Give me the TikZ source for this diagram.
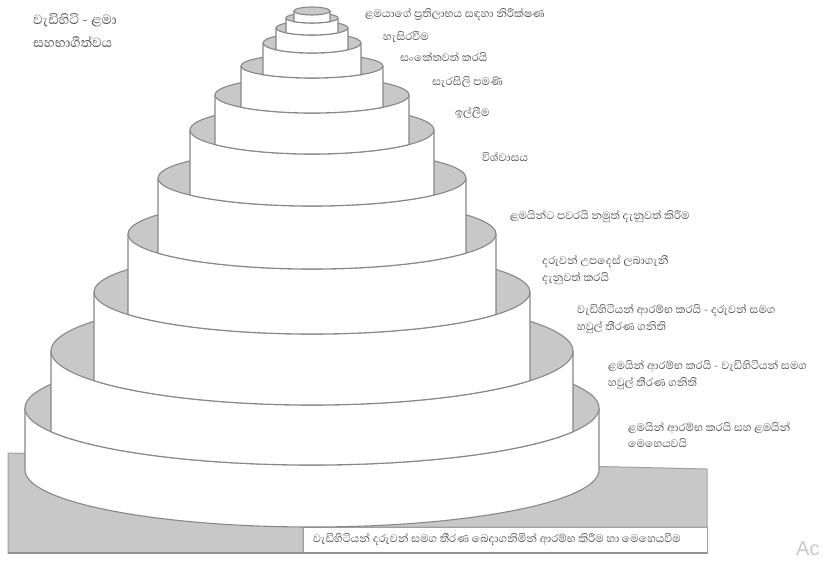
\documentclass[tikz,border=0pt]{standalone}
\usepackage{fontspec}
\newfontfamily\sinhfont[Script=Sinhala]{Abhaya Libre}
\newfontfamily\wmfont{Liberation Sans}
\definecolor{tg}{RGB}{200,200,200}
\definecolor{tl}{RGB}{135,135,135}
\definecolor{tx}{RGB}{85,85,85}
\definecolor{wm}{RGB}{200,200,200}
\tikzset{
  lbl/.style={anchor=west, inner sep=0pt, font=\sinhfont\fontsize{14}{16.5}\selectfont, text=tx, align=left},
  ttl/.style={anchor=west, inner sep=0pt, font=\sinhfont\fontsize{17}{23}\selectfont, text=tx, align=left},
  ring/.style={fill=tg, draw=tl, line width=1.1pt},
  edgeline/.style={draw=tl, line width=1.1pt},
  basegrey/.style={fill=tg, draw=tl!80, line width=1pt},
}
% rx t ry | rx t ry of the surface below
\newcommand\drawtier[6]{%
  \pgfmathsetmacro\aL{acos(-#1/#4)}%
  \pgfmathsetmacro\aR{acos(#1/#4)}%
  \pgfmathsetmacro\yL{#5+#6*sin(\aL)}%
  \fill[white] (312-#1,#2) -- (312-#1,\yL) arc[start angle=\aL, end angle=\aR, x radius=#4pt, y radius=#6pt] -- (312+#1,#2) -- cycle;
  \draw[edgeline] (312-#1,#2) -- (312-#1,\yL) arc[start angle=\aL, end angle=\aR, x radius=#4pt, y radius=#6pt] -- (312+#1,#2);
  \filldraw[ring] (312,#2) ellipse[x radius=#1pt, y radius=#3pt];
}
\begin{document}
\begin{tikzpicture}[x=1pt, y=1pt, yscale=-1]
\useasboundingbox[fill=white] (0,0) rectangle (825,560);
% base
\filldraw[basegrey] (8,453) -- (707,469) -- (707,527) -- (303,527) -- (303,553) -- (8,553) -- cycle;
\filldraw[fill=white, draw=tl!80, line width=1pt] (303,527) rectangle (707,553);
\draw[tl!90, line width=2pt] (8,553) -- (707,553);
% tiers
\drawtier{287}{408}{57}{287}{470}{57}
\drawtier{261}{351}{54}{287}{408}{57}
\drawtier{218}{292}{42}{261}{351}{54}
\drawtier{184}{234}{35}{218}{292}{42}
\drawtier{154}{178}{28}{184}{234}{35}
\drawtier{122}{130}{24}{154}{178}{28}
\drawtier{97}{95}{18}{122}{130}{24}
\drawtier{71}{66}{12}{97}{95}{18}
\drawtier{49}{43}{10}{71}{66}{12}
\drawtier{36}{28}{7}{49}{43}{10}
\drawtier{26}{18}{5}{36}{28}{7}
\drawtier{18}{11}{4}{26}{18}{5}
% title
\node[ttl] (title) at (33,31) {වැඩිහිටි - ළමා\\සහභාගීත්වය};
% labels
\node[lbl] (l1) at (365,15) {ළමයාගේ ප්‍රතිලාභය සඳහා නිරීක්ෂණ};
\node[lbl] (l2) at (383,37) {හැසිරවීම};
\node[lbl] (l3) at (400,57) {සංකේතවත් කරයි};
\node[lbl] (l4) at (432,82) {සැරසිලි පමණි};
\node[lbl] (l5) at (455,113) {ඉල්ලීම};
\node[lbl] (l6) at (482,157) {විශ්වාසය};
\node[lbl] (l7) at (510,217) {ළමයින්ට පවරයි නමුත් දැනුවත් කිරීම};
\node[lbl] (l8) at (542,270) {දරුවන් උපදෙස් ලබාගැනී\\දැනුවත් කරයි};
\node[lbl] (l9) at (577,319) {වැඩිහිටියන් ආරම්භ කරයි - දරුවන් සමග\\හවුල් තීරණ ගනිති};
\node[lbl] (l10) at (608,375) {ළමයින් ආරම්භ කරයි - වැඩිහිටියන් සමග\\හවුල් තීරණ ගනිති};
\node[lbl] (l11) at (628,435) {ළමයින් ආරම්භ කරයි සහ ළමයින්\\මෙහෙයවයි};
\node[lbl] (l12) at (313,540) {වැඩිහිටියන් දරුවන් සමග තීරණ බෙදාගනිමින් ආරම්භ කිරීම හා මෙහෙයවීම};
\node[anchor=west, inner sep=0pt, font=\wmfont\fontsize{20}{20}\selectfont, text=wm] (wmk) at (796,549) {Ac};
\end{tikzpicture}
\end{document}
